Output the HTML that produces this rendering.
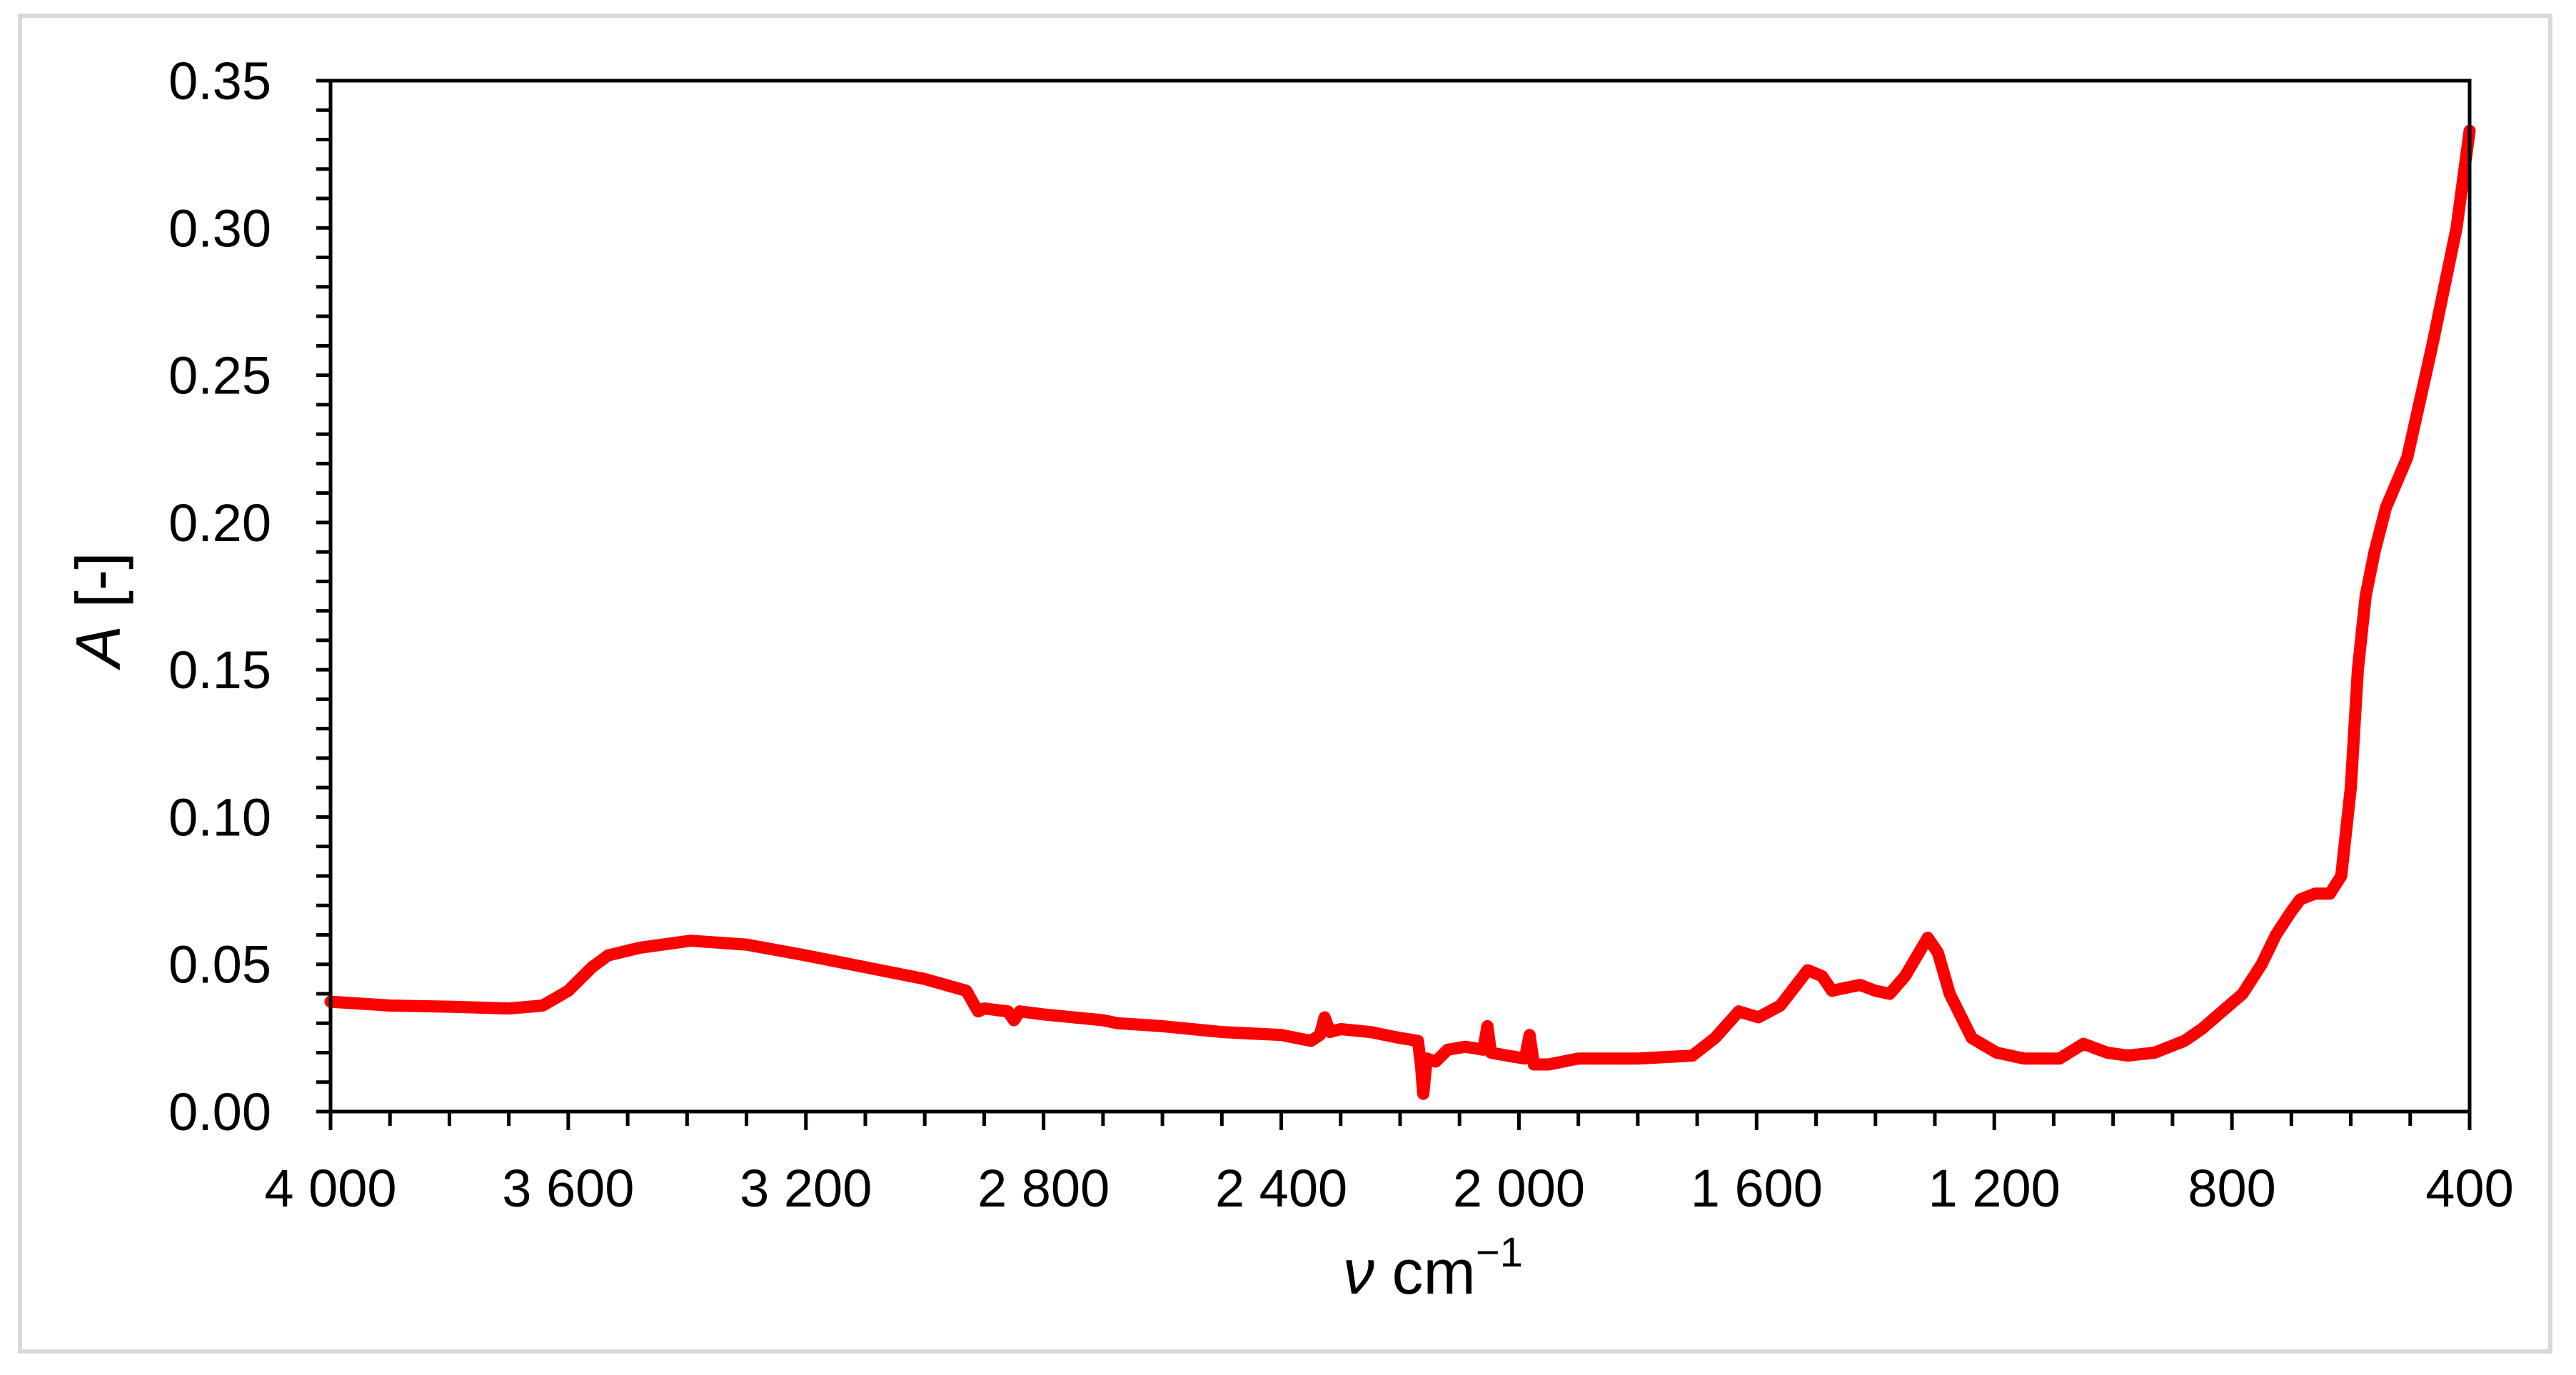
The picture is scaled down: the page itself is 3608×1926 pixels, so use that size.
<!DOCTYPE html>
<html><head><meta charset="utf-8"><style>
html,body{margin:0;padding:0;background:#fff;}
svg{display:block;font-family:"Liberation Sans",sans-serif;}
</style></head><body>
<svg id="chart" width="3608" height="1926" viewBox="0 0 3608 1926" xmlns="http://www.w3.org/2000/svg">
<rect x="28" y="22" width="3544" height="1871" fill="#fff" stroke="#d9d9d9" stroke-width="6"/>
<g id="series"></g>
<rect x="463" y="113" width="2996" height="1444" fill="none" stroke="#000" stroke-width="5"/>
<g id="ticks"></g>
<text x="2007" y="1812" font-size="88" text-anchor="middle"><tspan font-style="italic">ν</tspan> cm<tspan font-size="58" dy="-38">−1</tspan></text>
<text transform="translate(168,854) rotate(-90)" font-size="88" text-anchor="middle"><tspan font-style="italic">A</tspan> [-]</text>
</svg>
<script>
const wavenumbers = [4000,3900,3800,3700,3643,3600,3560,3533,3480,3394,3300,3200,3100,3000,2930,2916,2910,2900,2860,2850,2840,2800,2700,2676,2600,2500,2400,2350,2335,2327,2318,2300,2250,2200,2170,2165,2161,2155,2140,2120,2090,2060,2053,2047,2020,1990,1982,1975,1950,1900,1800,1708,1670,1630,1597,1560,1514,1490,1473,1450,1426,1400,1376,1350,1312,1295,1275,1238,1196,1150,1127,1090,1050,1010,975,930,880,851,782,750,726,700,685,660,635,616,600,588,575,560,541,505,463,422,400];
const absorbance = [0.0373,0.036,0.0356,0.035,0.036,0.041,0.049,0.053,0.0556,0.058,0.0567,0.053,0.049,0.045,0.041,0.036,0.034,0.035,0.034,0.031,0.034,0.033,0.031,0.030,0.029,0.027,0.026,0.024,0.026,0.032,0.027,0.028,0.027,0.025,0.024,0.016,0.006,0.018,0.017,0.021,0.022,0.021,0.029,0.020,0.019,0.018,0.026,0.016,0.016,0.018,0.018,0.019,0.025,0.034,0.032,0.036,0.048,0.046,0.041,0.042,0.043,0.041,0.040,0.046,0.059,0.054,0.040,0.025,0.020,0.018,0.018,0.018,0.023,0.020,0.019,0.020,0.024,0.028,0.040,0.050,0.060,0.068,0.072,0.074,0.074,0.080,0.110,0.150,0.175,0.190,0.205,0.222,0.260,0.300,0.333];
const yTickLabels = ["0.00","0.05","0.10","0.15","0.20","0.25","0.30","0.35"];
const xTickLabels = ["4 000","3 600","3 200","2 800","2 400","2 000","1 600","1 200","800","400"];
const xTickValues = [4000,3600,3200,2800,2400,2000,1600,1200,800,400];
const yTickValues = [0,0.05,0.1,0.15,0.2,0.25,0.3,0.35];

const L=463,R=3459,T=113,B=1557;
function xs(v){return L+(4000-v)/3600*(R-L);}
function ys(a){return B-a/0.35*(B-T);}
const NS="http://www.w3.org/2000/svg";
const ticks=document.getElementById('ticks');
function line(x1,y1,x2,y2,name){
  const l=document.createElementNS(NS,'line');
  l.setAttribute('x1',x1);l.setAttribute('y1',y1);l.setAttribute('x2',x2);l.setAttribute('y2',y2);
  l.setAttribute('stroke','#000');l.setAttribute('stroke-width','5');
  
  
  ticks.appendChild(l);
}
for(let i=0;i<=35;i++){ line(L-20,ys(i*0.01),L,ys(i*0.01),'y-tick'); }
for(let v=4000;v>=400;v-=100){ const major=(v%400===0); line(xs(v),B,xs(v),B+(major?26:20),'x-tick'); }
yTickValues.forEach((v,i)=>{
  const t=document.createElementNS(NS,'text');
  t.setAttribute('x',380);t.setAttribute('y',ys(v)+26);
  t.setAttribute('font-size','74');t.setAttribute('text-anchor','end');
  t.textContent=yTickLabels[i];
  
  
  ticks.appendChild(t);
});
xTickValues.forEach((v,i)=>{
  const t=document.createElementNS(NS,'text');
  t.setAttribute('x',xs(v));t.setAttribute('y',1690);
  t.setAttribute('font-size','74');t.setAttribute('text-anchor','middle');
  t.textContent=xTickLabels[i];
  
  
  ticks.appendChild(t);
});
const pl=document.createElementNS(NS,'polyline');
pl.setAttribute('points',wavenumbers.map((v,i)=>xs(v).toFixed(1)+','+ys(absorbance[i]).toFixed(1)).join(' '));
pl.setAttribute('fill','none');pl.setAttribute('stroke','#ff0000');pl.setAttribute('stroke-width','17');
pl.setAttribute('stroke-linejoin','round');pl.setAttribute('stroke-linecap','round');


document.getElementById('series').appendChild(pl);
</script>
</body></html>
